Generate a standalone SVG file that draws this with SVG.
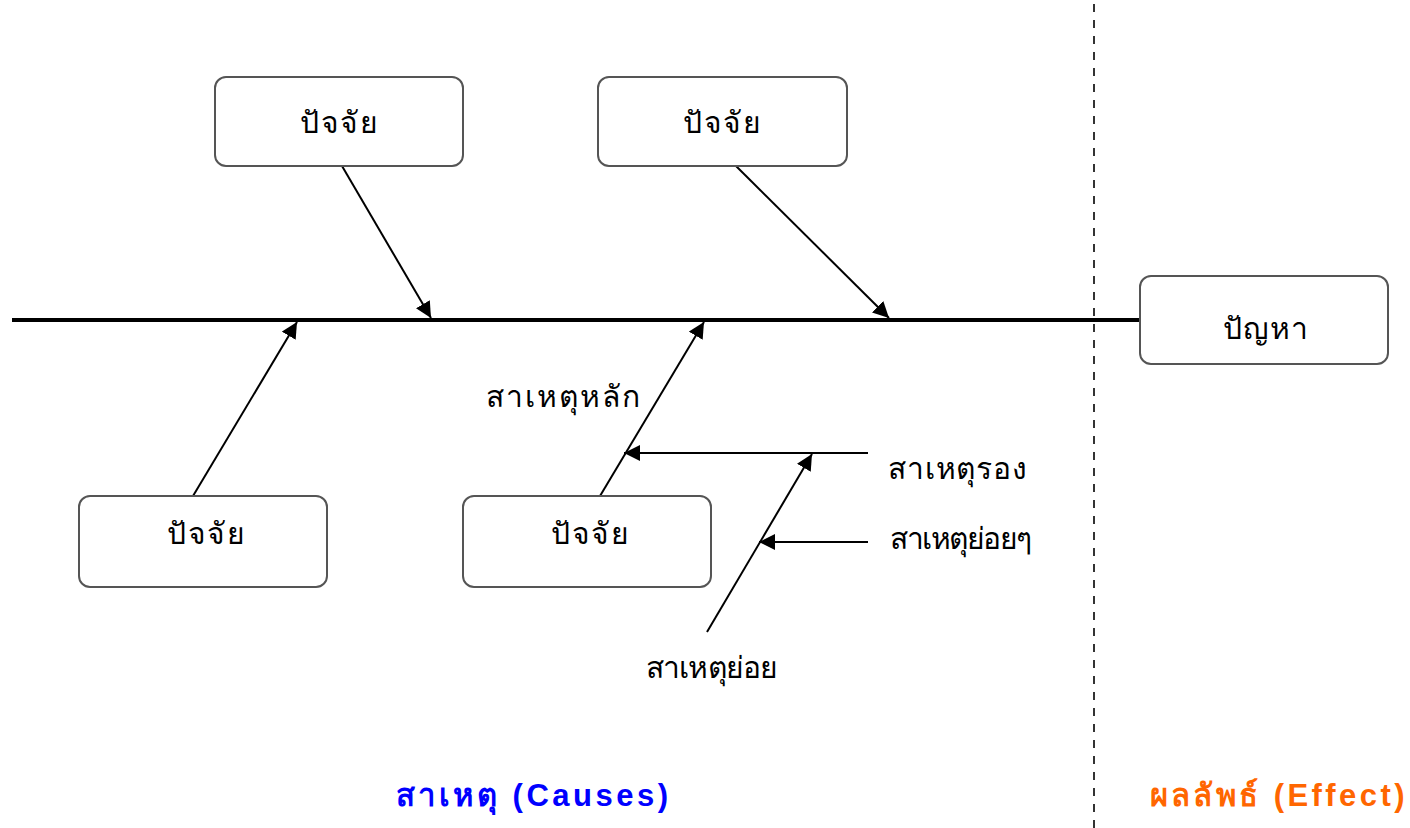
<svg xmlns="http://www.w3.org/2000/svg" width="1410" height="828" viewBox="0 0 1410 828">
<style>
.box{fill:#fff;stroke:#555;stroke-width:2}
.t{font-family:"Noto Sans","DejaVu Sans",sans-serif;font-size:30px;fill:#000}
.c{text-anchor:middle}
.ln{stroke:#000;stroke-width:2;fill:none}
.big{font-family:"Liberation Sans","Noto Sans",sans-serif;font-size:31px;font-weight:bold;text-anchor:middle}
</style>
<defs>
<marker id="ah" viewBox="0 0 10 10" refX="10" refY="5" markerWidth="16" markerHeight="16" markerUnits="userSpaceOnUse" orient="auto">
<path d="M0,0 L10,5 L0,10 z" fill="#000"/>
</marker>
</defs>
<rect width="1410" height="828" fill="#fff"/>
<line x1="1094" y1="4" x2="1094" y2="828" stroke="#333" stroke-width="2" stroke-dasharray="8,8"/>
<g id="connectors">
<line x1="12" y1="320" x2="1140" y2="320" stroke="#000" stroke-width="4"/>
<line class="ln" x1="342" y1="166" x2="431" y2="318" marker-end="url(#ah)"/>
<line class="ln" x1="736" y1="166" x2="889" y2="318" marker-end="url(#ah)"/>
<line class="ln" x1="193" y1="496" x2="297" y2="322" marker-end="url(#ah)"/>
<line class="ln" x1="600" y1="496" x2="704" y2="322" marker-end="url(#ah)"/>
<line class="ln" x1="868" y1="453" x2="624" y2="453" marker-end="url(#ah)"/>
<line class="ln" x1="707" y1="632" x2="812" y2="454" marker-end="url(#ah)"/>
<line class="ln" x1="868" y1="542" x2="759" y2="542" marker-end="url(#ah)"/>
</g>
<g id="f1"><rect class="box" x="215" y="77" width="248" height="89" rx="11"/><text class="t c" x="339" y="133" textLength="78">ปัจจัย</text></g>
<g id="f2"><rect class="box" x="598" y="77" width="249" height="89" rx="11"/><text class="t c" x="722" y="133" textLength="78">ปัจจัย</text></g>
<g id="f3"><rect class="box" x="79" y="496" width="248" height="91" rx="11"/><text class="t c" x="206" y="544" textLength="78">ปัจจัย</text></g>
<g id="f4"><rect class="box" x="463" y="496" width="248" height="91" rx="11"/><text class="t c" x="590" y="544" textLength="78">ปัจจัย</text></g>
<g id="problem"><rect class="box" x="1140" y="276" width="248" height="88" rx="11"/><text class="t c" x="1265" y="339" textLength="85">ปัญหา</text></g>
<g id="labels">
<text class="t" x="486" y="407" textLength="154">สาเหตุหลัก</text>
<text class="t" x="888" y="479" textLength="139">สาเหตุรอง</text>
<text class="t" x="890" y="549" textLength="142">สาเหตุย่อยๆ</text>
<text class="t" x="646" y="678" textLength="132">สาเหตุย่อย</text>
<text class="big" x="532" y="806" fill="#0000ff" textLength="272">สาเหตุ (Causes)</text>
<text class="big" x="1277" y="806" fill="#ff6600" textLength="255">ผลลัพธ์ (Effect)</text>
</g>
</svg>
